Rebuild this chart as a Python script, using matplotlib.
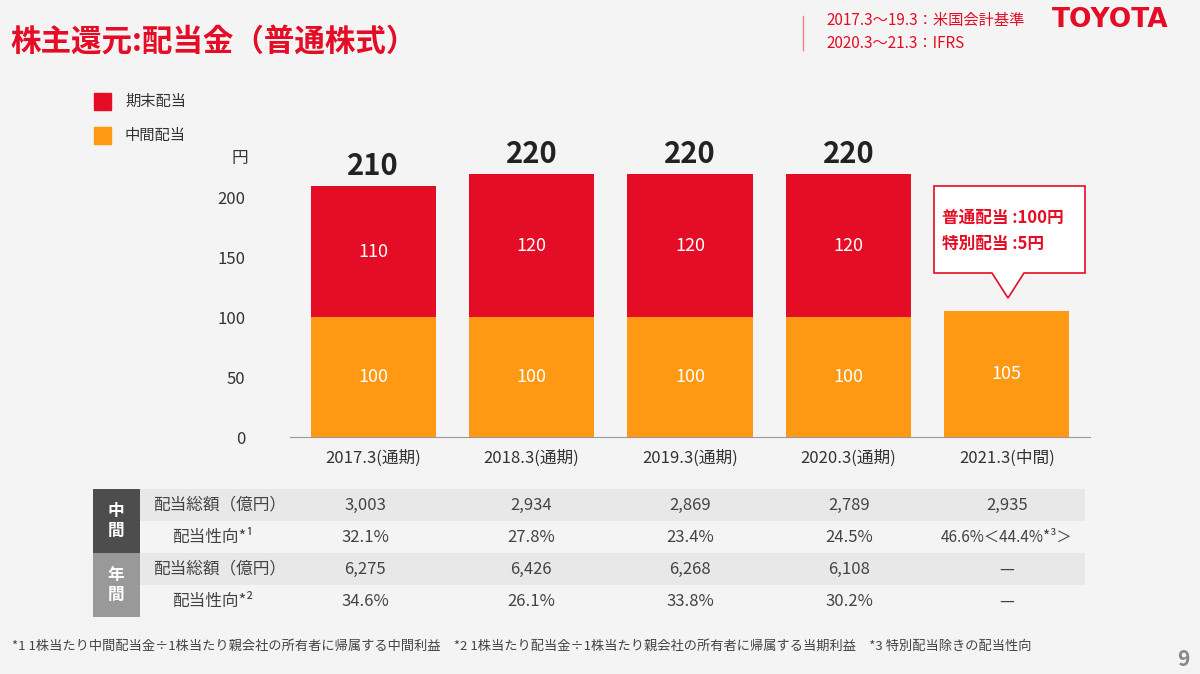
import matplotlib
matplotlib.use("Agg")
import matplotlib.pyplot as plt
from matplotlib.patches import Rectangle, Polygon

plt.rcParams['font.family'] = ['Noto Sans CJK JP', 'DejaVu Sans']

categories = ["2017.3(通期)", "2018.3(通期)", "2019.3(通期)", "2020.3(通期)", "2021.3(中間)"]
interim = [100, 100, 100, 100, 105]
year_end = [110, 120, 120, 120, 0]
totals = ["210", "220", "220", "220", ""]
yticks = [0, 50, 100, 150, 200]
row_labels = ["配当総額（億円）", "配当性向*¹", "配当総額（億円）", "配当性向*²"]
table = [
    ["3,003", "2,934", "2,869", "2,789", "2,935"],
    ["32.1%", "27.8%", "23.4%", "24.5%", "46.6%＜44.4%*³＞"],
    ["6,275", "6,426", "6,268", "6,108", "—"],
    ["34.6%", "26.1%", "33.8%", "30.2%", "—"],
]

RED = "#e50d25"
ORANGE = "#ff9914"
BG = "#f4f4f4"
W, H = 1200, 674

fig = plt.figure(figsize=(12, 6.74), dpi=100, facecolor=BG)
ax = fig.add_axes([290/W, 1-437/H, 800/W, 275/H], facecolor=BG)
x = list(range(len(categories)))
ax.bar(x, interim, width=0.79, color=ORANGE)
ax.bar(x, year_end, bottom=interim, width=0.79, color=RED)
for i in x:
    ax.text(i, interim[i]/2, str(interim[i]), ha='center', va='center', color='white', fontsize=13)
    if year_end[i]:
        ax.text(i, interim[i] + year_end[i]/2, str(year_end[i]), ha='center', va='center', color='white', fontsize=13)
        ax.text(i, interim[i] + year_end[i] + 4, totals[i], ha='center', va='bottom', color='#222', fontsize=21, fontweight='bold')
ax.set_xlim(-0.525, 4.525)
ax.set_ylim(0, 230)
ax.set_yticks(yticks)
ax.set_xticks(x)
ax.set_xticklabels(categories)
ax.tick_params(axis='both', length=0, labelsize=12, colors='#333')
ax.tick_params(axis='y', pad=32)
ax.tick_params(axis='x', pad=9)
for s in ['top', 'right', 'left']:
    ax.spines[s].set_visible(False)
ax.spines['bottom'].set_color('#999')

# overlay
o = fig.add_axes([0, 0, 1, 1], facecolor='none')
o.set_xlim(0, W); o.set_ylim(H, 0); o.axis('off')

o.text(240, 158, "円", fontsize=12, color='#333', ha='center', va='center')
o.text(10, 42, "株主還元:配当金（普通株式）", fontsize=22, fontweight='bold', color=RED, va='center')
o.plot([803, 803], [16, 50], color='#f08090', lw=1)
o.text(826, 20, "2017.3〜19.3：米国会計基準", fontsize=11, color=RED, va='center')
o.text(826, 43, "2020.3〜21.3：IFRS", fontsize=11, color=RED, va='center')
o.text(1110, 20, "TOYOTA", fontsize=19, fontweight='bold', color=RED, va='center', ha='center', family='DejaVu Sans')

o.add_patch(Rectangle((94, 93), 17, 17, color=RED))
o.text(125, 101, "期末配当", fontsize=11, color='#333', va='center')
o.add_patch(Rectangle((94, 127), 17, 17, color=ORANGE))
o.text(125, 135, "中間配当", fontsize=11, color='#333', va='center')

# callout
o.add_patch(Polygon([(934, 186), (1085, 186), (1085, 273), (1024, 273), (1008, 298),
                     (992, 273), (934, 273)], closed=True, facecolor='white', edgecolor=RED, lw=1.2))
o.text(942, 218, "普通配当 :100円", fontsize=12, color=RED, fontweight='bold', va='center')
o.text(942, 244, "特別配当 :5円", fontsize=12, color=RED, fontweight='bold', va='center')

# table
ys = [505, 537, 569, 601]
for r, yc in enumerate(ys):
    if r % 2 == 0:
        o.add_patch(Rectangle((140, yc-16), 945, 32, color='#e8e8e8', lw=0))
o.add_patch(Rectangle((93, 489), 47, 64, color='#4d4d4d', lw=0))
o.add_patch(Rectangle((93, 553), 47, 64, color='#999999', lw=0))
o.text(116, 521, "中\n間", color='white', fontsize=12, ha='center', va='center', fontweight='bold', linespacing=1.1)
o.text(116, 585, "年\n間", color='white', fontsize=12, ha='center', va='center', fontweight='bold', linespacing=1.1)
label_x = [153, 172, 153, 172]
cols = [365, 531, 690, 849, 1007]
for r, yc in enumerate(ys):
    o.text(label_x[r], yc, row_labels[r], fontsize=12, color='#444', va='center')
    for c, cx in enumerate(cols):
        fs = 11 if (r == 1 and c == 4) else 12
        o.text(cx, yc, table[r][c], fontsize=fs, color='#444', va='center', ha='center')

o.text(12, 646, "*1 1株当たり中間配当金÷1株当たり親会社の所有者に帰属する中間利益　*2 1株当たり配当金÷1株当たり親会社の所有者に帰属する当期利益　*3 特別配当除きの配当性向",
       fontsize=9.5, color='#444', va='center')
o.text(1190, 660, "9", fontsize=15, color='#888', fontweight='bold', ha='right', va='center')

fig.savefig("out.png", dpi=100, facecolor=BG)
